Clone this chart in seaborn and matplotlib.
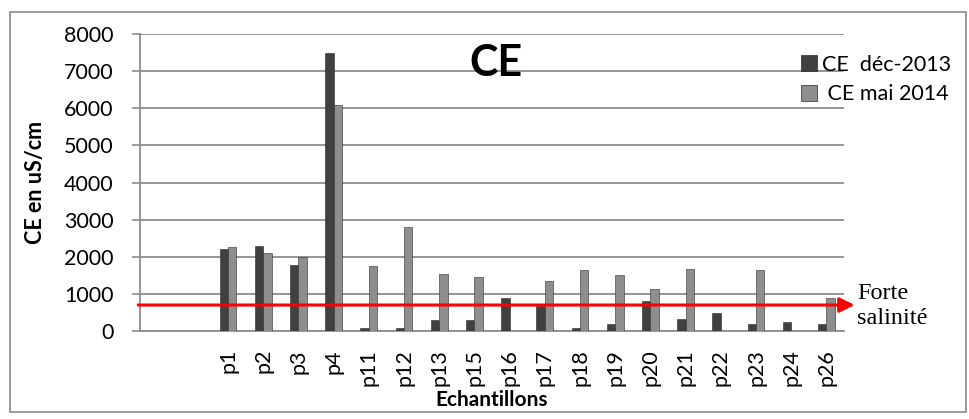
import matplotlib
matplotlib.use("Agg")
import matplotlib.pyplot as plt
import matplotlib.patches as mpatches
import seaborn as sns
import pandas as pd
import numpy as np

# ---- data ----
samples = ["p1", "p2", "p3", "p4", "p11", "p12", "p13", "p15", "p16", "p17",
           "p18", "p19", "p20", "p21", "p22", "p23", "p24", "p26"]
blank_categories = ["", " "]
ce_dec_2013 = [2200, 2300, 1780, 7500, 80, 80, 300, 300, 900, 670,
               90, 200, 800, 310, 490, 200, 230, 200]
ce_mai_2014 = [2270, 2100, 2000, 6100, 1750, 2800, 1540, 1460, 0, 1350,
               1630, 1510, 1140, 1660, 0, 1630, 0, 880]
series_names = ["CE  déc-2013", " CE mai 2014"]
series_colors = ["#404040", "#8e8e8e"]
threshold = 700
y_ticks = [0, 1000, 2000, 3000, 4000, 5000, 6000, 7000, 8000]

df = pd.DataFrame({
    "Echantillon": samples * 2,
    "Serie": [series_names[0]] * len(samples) + [series_names[1]] * len(samples),
    "CE": ce_dec_2013 + ce_mai_2014,
})
order = blank_categories + samples

sns.set_style("white")
plt.rcParams["font.family"] = ["Lato", "DejaVu Sans"]
plt.rcParams["text.color"] = "black"
plt.rcParams["axes.labelcolor"] = "black"
plt.rcParams["xtick.labelcolor"] = "black"
plt.rcParams["ytick.labelcolor"] = "black"

fig = plt.figure(figsize=(9.69, 4.19), dpi=100)
ax = fig.add_axes([140 / 969, 1 - 331 / 419, (844 - 140) / 969, (331 - 34) / 419])

sns.barplot(data=df, x="Echantillon", y="CE", hue="Serie", order=order,
            hue_order=series_names, palette=series_colors, width=0.48,
            saturation=1, gap=0, legend=False, ax=ax, zorder=3,
            edgecolor="#2a2a2a", linewidth=0.4)

ax.set_xlim(-0.5, len(order) - 0.5)
ax.set_ylim(0, 8000)
ax.set_yticks(y_ticks)
ax.set_yticklabels([str(v) for v in y_ticks], fontsize=15.5)

# grid
ax.yaxis.grid(True, color="#8c8c8c", linewidth=1.3, zorder=0)
ax.xaxis.grid(False)
ax.set_axisbelow(True)
for s in ["top", "right"]:
    ax.spines[s].set_visible(False)
for s in ["left", "bottom"]:
    ax.spines[s].set_color("#8c8c8c")
    ax.spines[s].set_linewidth(1.3)

# x ticks: labels at centers, tick marks at boundaries
ax.set_xticks(range(len(order)))
ax.set_xticklabels(order, rotation=90, fontsize=15.5, va="top")
ax.tick_params(axis="x", which="major", length=0, pad=13)
ax.set_xticks(np.arange(-0.5, len(order), 1.0), minor=True)
ax.tick_params(axis="x", which="minor", length=6, width=1.2, color="#8c8c8c", direction="out")
ax.tick_params(axis="y", which="major", length=6, width=1.2, color="#8c8c8c",
               direction="out", pad=13, left=True)

ax.set_xlabel("Echantillons", fontsize=15, fontweight="bold", labelpad=3)
ax.set_ylabel("CE en uS/cm", fontsize=15.5, fontweight="bold", labelpad=13)

# title
fig.text(496 / 969, 1 - 63 / 419, "CE", fontsize=31, fontweight="bold",
         ha="center", va="center")

# legend
handles = [mpatches.Patch(facecolor=c, edgecolor="#2a2a2a", linewidth=0.5) for c in series_colors]
fig.legend(handles, series_names, loc="upper left",
           bbox_to_anchor=(790 / 969, 1 - 44 / 419), frameon=False,
           fontsize=15.5, handlelength=0.75, handleheight=0.75,
           handletextpad=0.25, labelspacing=0.45, borderpad=0)

# threshold arrow
ax.annotate("", xy=(19.8, threshold), xytext=(-0.55, threshold),
            xycoords="data", textcoords="data", annotation_clip=False,
            arrowprops=dict(arrowstyle="-|>,head_length=0.9,head_width=0.45",
                            color="#ff0000", lw=2.2, shrinkA=0, shrinkB=0),
            zorder=5)
fig.text(857 / 969, 1 - 306 / 419, "Forte\nsalinité", fontsize=17.5,
         family=["Liberation Serif", "DejaVu Serif"], ha="left", va="center",
         linespacing=1.2)

# outer border
fig.patches.append(mpatches.Rectangle((10 / 969, 1 - 412 / 419), (966 - 10) / 969,
                                      (412 - 12) / 419, transform=fig.transFigure,
                                      fill=False, edgecolor="#8c8c8c", linewidth=1.2))

fig.savefig("out.png", dpi=100)
